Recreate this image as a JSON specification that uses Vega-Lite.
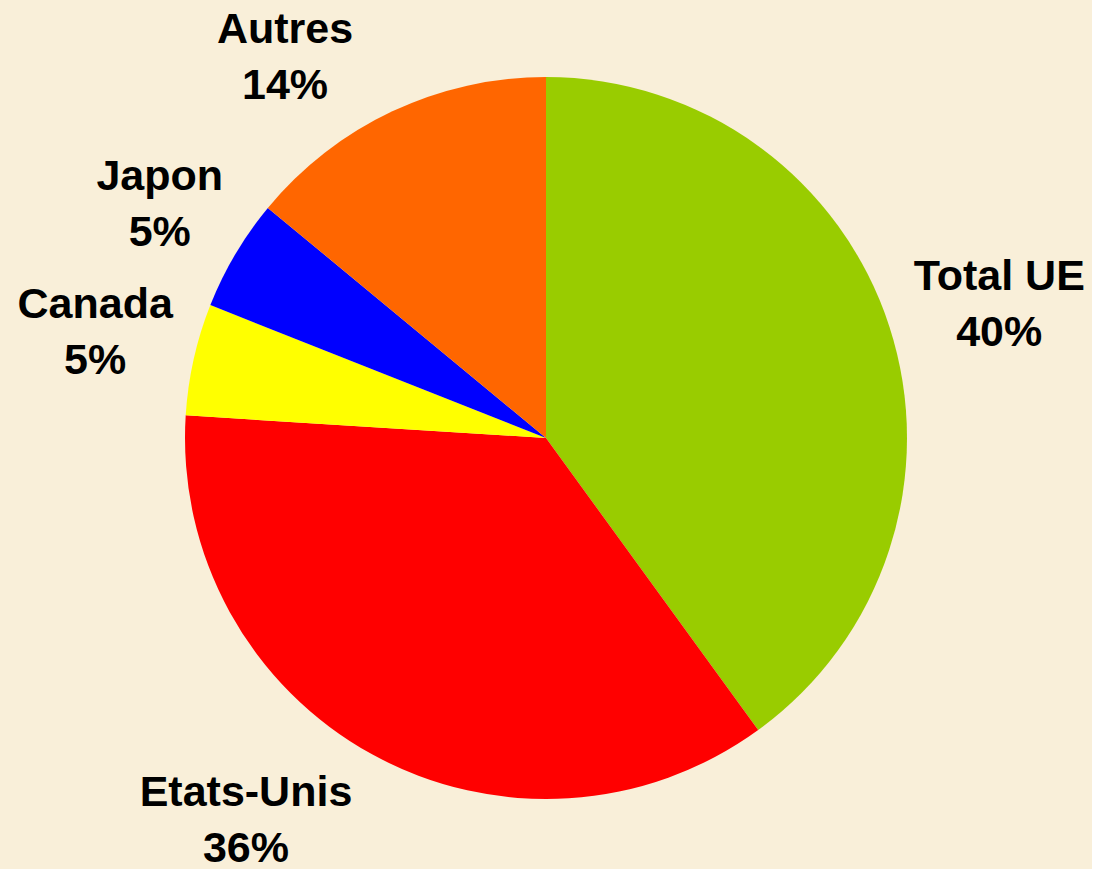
{
  "$schema": "https://vega.github.io/schema/vega-lite/v6.json",
  "width": 1092,
  "height": 876,
  "autosize": "none",
  "padding": 0,
  "background": "#F9EFD9",
  "view": {"stroke": null},
  "data": {"values": [
    {"cat": "Total UE", "value": 40, "rank": 1, "label": "Total UE\n40%"},
    {"cat": "Etats-Unis", "value": 36, "rank": 2, "label": "Etats-Unis\n36%"},
    {"cat": "Canada", "value": 5, "rank": 3, "label": "Canada\n5%"},
    {"cat": "Japon", "value": 5, "rank": 4, "label": "Japon\n5%"},
    {"cat": "Autres", "value": 14, "rank": 5, "label": "Autres\n14%"}
  ]},
  "encoding": {
    "theta": {"field": "value", "type": "quantitative", "stack": true},
    "order": {"field": "rank", "type": "quantitative", "sort": "ascending"},
    "color": {
      "field": "cat", "type": "nominal",
      "scale": {"domain": ["Total UE", "Etats-Unis", "Canada", "Japon", "Autres"], "range": ["#99CC00", "#FF0000", "#FFFF00", "#0000FF", "#FF6600"]},
      "legend": null
    }
  },
  "layer": [
    {"mark": {"type": "arc", "outerRadius": 361}},
    {"mark": {"type": "text", "radius": 465, "dx": 11, "dy": -17, "font": "Liberation Sans", "fontWeight": "bold", "fontSize": 43, "lineBreak": "\n", "lineHeight": 56},
     "encoding": {"text": {"condition": {"test": "datum.cat == 'Total UE'", "field": "label"}, "value": ""}, "color": {"value": "#000000"}}},
    {"mark": {"type": "text", "radius": 465, "dx": -76, "dy": -52, "font": "Liberation Sans", "fontWeight": "bold", "fontSize": 43, "lineBreak": "\n", "lineHeight": 56},
     "encoding": {"text": {"condition": {"test": "datum.cat == 'Etats-Unis'", "field": "label"}, "value": ""}, "color": {"value": "#000000"}}},
    {"mark": {"type": "text", "radius": 465, "dx": 3, "dy": -32, "font": "Liberation Sans", "fontWeight": "bold", "fontSize": 43, "lineBreak": "\n", "lineHeight": 56},
     "encoding": {"text": {"condition": {"test": "datum.cat == 'Canada'", "field": "label"}, "value": ""}, "color": {"value": "#000000"}}},
    {"mark": {"type": "text", "radius": 465, "dx": 14, "dy": -24, "font": "Liberation Sans", "fontWeight": "bold", "fontSize": 43, "lineBreak": "\n", "lineHeight": 56},
     "encoding": {"text": {"condition": {"test": "datum.cat == 'Japon'", "field": "label"}, "value": ""}, "color": {"value": "#000000"}}},
    {"mark": {"type": "text", "radius": 465, "dx": -63, "dy": 13, "font": "Liberation Sans", "fontWeight": "bold", "fontSize": 43, "lineBreak": "\n", "lineHeight": 56},
     "encoding": {"text": {"condition": {"test": "datum.cat == 'Autres'", "field": "label"}, "value": ""}, "color": {"value": "#000000"}}}
  ]
}
